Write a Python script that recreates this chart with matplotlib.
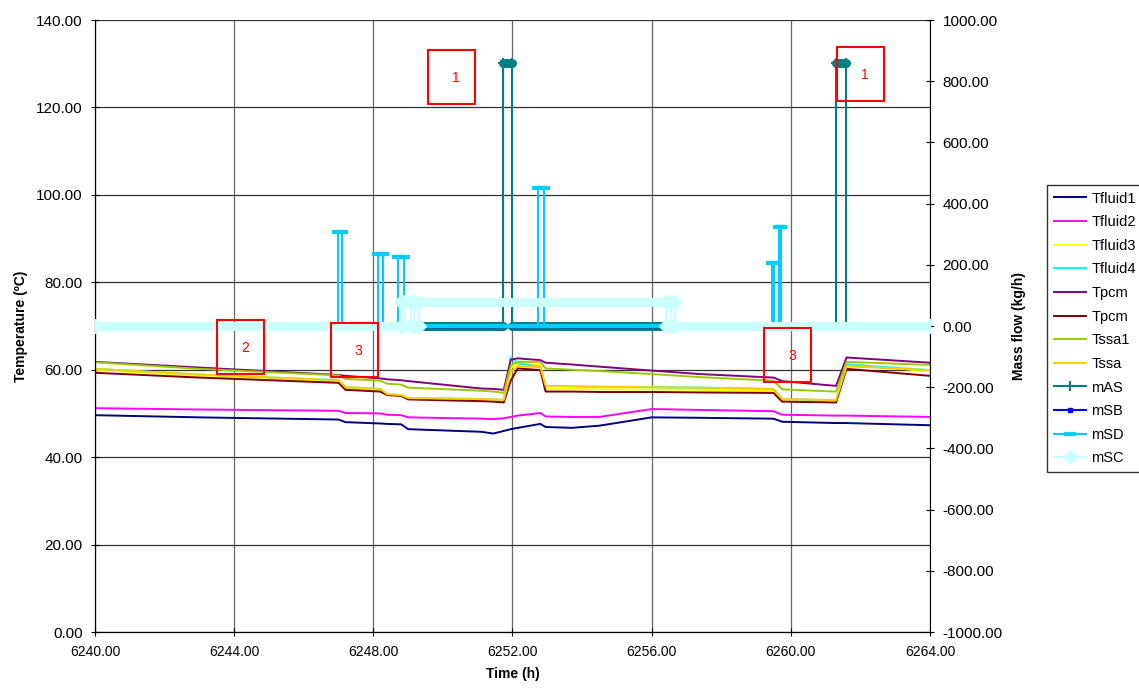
import matplotlib
matplotlib.use('Agg')
import matplotlib.pyplot as plt
from matplotlib.collections import LineCollection
from matplotlib.patches import Rectangle
from matplotlib.ticker import FormatStrFormatter

plt.rcParams['font.family'] = ['Liberation Sans', 'DejaVu Sans']
plt.rcParams['font.size'] = 10

# temperatures (ºC), all read at the same time knots (h)
time_h = [6240.0, 6243.0, 6247.0, 6247.2, 6248.2, 6248.4, 6248.8, 6249.0,
          6251.1, 6251.45, 6251.75, 6251.95, 6252.15, 6252.8, 6252.95, 6253.7,
          6254.5, 6256.0, 6257.4, 6259.5, 6259.75, 6261.3, 6261.6, 6264.0]
tfluid1 = [49.6, 49.1, 48.6, 48.0, 47.7, 47.6, 47.5, 46.4, 45.8, 45.4, 46.0, 46.4,
           46.7, 47.6, 46.9, 46.7, 47.2, 49.1, 49.0, 48.8, 48.1, 47.8, 47.8, 47.3]
tfluid2 = [51.2, 50.9, 50.6, 50.1, 50.0, 49.7, 49.6, 49.1, 48.8, 48.7, 48.9, 49.2,
           49.5, 50.1, 49.3, 49.2, 49.2, 51.0, 50.8, 50.5, 49.7, 49.5, 49.5, 49.2]
tfluid3 = [60.0, 58.6, 57.3, 55.7, 55.3, 54.2, 54.0, 53.3, 53.1, 53.0, 52.9, 60.5,
           61.3, 61.0, 55.6, 55.6, 55.5, 55.5, 55.4, 55.2, 53.1, 52.8, 61.3, 59.6]
tfluid4 = [60.2, 58.9, 57.6, 56.0, 55.6, 54.4, 54.2, 53.5, 53.3, 53.2, 53.1, 62.8,
           61.5, 60.6, 56.3, 56.2, 56.1, 56.0, 55.9, 55.6, 53.3, 53.0, 61.2, 59.9]
tpcm_a = [61.8, 60.5, 58.8, 58.6, 58.0, 57.8, 57.6, 57.4, 55.7, 55.6, 55.4, 62.3,
          62.6, 62.2, 61.6, 61.2, 60.7, 59.8, 59.0, 58.2, 57.4, 56.3, 62.8, 61.6]
tpcm_b = [59.3, 58.2, 57.0, 55.4, 55.0, 54.2, 54.0, 53.2, 52.8, 52.7, 52.5, 57.5,
          60.3, 59.9, 55.0, 55.0, 54.9, 54.9, 54.8, 54.7, 52.7, 52.5, 60.2, 58.6]
tssa1 = [61.7, 60.2, 58.7, 57.9, 57.5, 56.8, 56.6, 55.9, 55.2, 55.0, 54.7, 61.0,
         61.8, 61.8, 60.3, 60.0, 59.7, 59.0, 58.3, 57.5, 55.5, 55.0, 61.8, 61.1]
tssa = [60.2, 58.9, 57.6, 56.0, 55.6, 54.4, 54.2, 53.5, 53.3, 53.2, 53.1, 59.5,
        60.8, 60.6, 56.3, 56.2, 56.1, 56.0, 55.9, 55.6, 53.3, 53.0, 60.8, 59.9]

# mass flows (kg/h)
mas_t = [6240.0, 6251.73, 6251.73, 6251.99, 6251.99, 6261.3, 6261.3, 6261.58,
         6261.58, 6264.0]
mas_v = [0, 0, 860, 860, 0, 0, 860, 860, 0, 0]
msb_t = [6240.0, 6264.0]
msb_v = [0, 0]
msd_t = [6240.0, 6246.98, 6246.98, 6247.1, 6247.1, 6248.13, 6248.13, 6248.27,
         6248.27, 6248.72, 6248.72, 6248.87, 6248.87, 6252.73, 6252.73, 6252.9,
         6252.9, 6259.47, 6259.47, 6259.53, 6259.53, 6259.66, 6259.66, 6259.72,
         6259.72, 6264.0]
msd_v = [0, 0, 308, 308, 0, 0, 235, 235, 0, 0, 225, 225, 0, 0, 452, 452, 0, 0,
         205, 205, 0, 0, 323, 323, 0, 0]
msc_t = [6240.0, 6248.79, 6248.79, 6248.88, 6248.88, 6249.08, 6249.08, 6249.18,
         6249.18, 6249.3, 6249.3, 6256.41, 6256.41, 6256.56, 6256.56, 6256.66,
         6256.66, 6264.0]
msc_v = [0, 0, 80, 80, 0, 0, 80, 80, 0, 0, 80, 80, 0, 0, 80, 80, 0, 0]

# numbered note boxes: (x, y, label) in time / temperature units
notes = [(6249.57, 120.8, '1'), (6243.51, 59.0, '2'), (6246.78, 58.3, '3'),
         (6259.23, 57.2, '3'), (6261.33, 121.5, '1')]


def flat_segments(t, v):
    segs = []
    for i in range(len(t) - 1):
        if v[i] == v[i + 1] and t[i + 1] > t[i]:
            segs.append([(t[i], v[i]), (t[i + 1], v[i + 1])])
    return segs


fig = plt.figure(figsize=(11.39, 6.9), dpi=100)
ax = fig.add_axes([95 / 1139, 58 / 690, 835 / 1139, 612 / 690])
ax2 = ax.twinx()

handles = []
temp_series = [
    (tfluid1, '#000080', 'Tfluid1'),
    (tfluid2, '#FF00FF', 'Tfluid2'),
    (tfluid3, '#FFFF00', 'Tfluid3'),
    (tfluid4, '#00FFFF', 'Tfluid4'),
    (tpcm_a, '#800080', 'Tpcm'),
    (tpcm_b, '#800000', 'Tpcm'),
    (tssa1, '#99CC00', 'Tssa1'),
    (tssa, '#FFCC00', 'Tssa'),
]
for vals, col, lab in temp_series:
    ln, = ax.plot(time_h, vals, color=col, lw=1.4, label=lab)
    handles.append(ln)

flow_series = [
    (mas_t, mas_v, '#008080', '+', 7, 1.5, 6.5, 'mAS'),
    (msb_t, msb_v, '#0000FF', 's', 3, 1.0, 2.5, 'mSB'),
    (msd_t, msd_v, '#00CCFF', '_', 9, 3.0, 3.0, 'mSD'),
    (msc_t, msc_v, '#CCFFFF', 'D', 7, 1.0, 6.5, 'mSC'),
]
for k, (t, v, col, mk, ms, mew, band, lab) in enumerate(flow_series):
    z = 2 + k
    ax2.add_collection(LineCollection(flat_segments(t, v), colors=col,
                                      linewidths=band, capstyle='round',
                                      zorder=z))
    ln, = ax2.plot(t, v, color=col, lw=1.5, marker=mk, ms=ms, mew=mew,
                   mfc=col, mec=col, label=lab, zorder=z + 0.1)
    handles.append(ln)

for x0, y0, lab in notes:
    ax2.add_patch(Rectangle((x0, y0), 1.35, 12.35, transform=ax.transData,
                            fill=False, edgecolor='#FF0000', lw=1.5, zorder=10))
    ax2.text(x0 + 0.8, y0 + 6.0, lab, transform=ax.transData, color='#FF0000',
             fontsize=10, ha='center', va='center', zorder=10)

ax.set_xlim(6240, 6264)
ax.set_ylim(0, 140)
ax2.set_ylim(-1000, 1000)
ax.set_xticks(range(6240, 6265, 4))
ax.set_yticks(range(0, 141, 20))
ax2.set_yticks(range(-1000, 1001, 200))
ax.xaxis.set_major_formatter(FormatStrFormatter('%.2f'))
ax.yaxis.set_major_formatter(FormatStrFormatter('%.2f'))
ax2.yaxis.set_major_formatter(FormatStrFormatter('%.2f'))

ax.grid(True, axis='y', color='#333333', lw=0.9)
ax.grid(True, axis='x', color='#666666', lw=0.9)
ax.set_axisbelow(True)
for a in (ax, ax2):
    a.spines['top'].set_visible(False)
    a.tick_params(direction='inout', length=6, width=0.8, pad=6, colors='black')
    a.tick_params(axis='y', labelsize=11)
ax.tick_params(axis='x', labelsize=10)
ax.spines['right'].set_visible(False)

ax.set_xlabel('Time (h)', fontweight='bold', fontsize=10, labelpad=6)
ax.set_ylabel('Temperature (ºC)', fontweight='bold', fontsize=10, labelpad=6)
ax2.set_ylabel('Mass flow (kg/h)', fontweight='bold', fontsize=10, labelpad=7)

leg = fig.legend(handles, [h.get_label() for h in handles], loc='upper left',
                 bbox_to_anchor=(1047 / 1139, 1 - 185 / 690),
                 fancybox=False, edgecolor='black', fontsize=10.5,
                 labelspacing=0.66, handlelength=2.2, handletextpad=0.4,
                 borderpad=0.45, borderaxespad=0)
leg.get_frame().set_linewidth(1.0)

fig.savefig('out.png', dpi=100)
